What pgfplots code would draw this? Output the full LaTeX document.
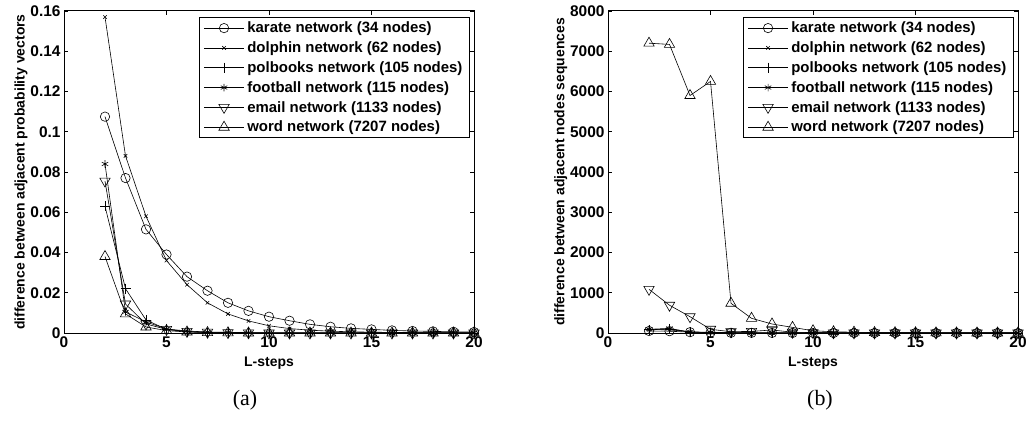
\documentclass[border=0pt]{standalone}
\usepackage{pgfplots}
\pgfplotsset{compat=1.18}
\usepackage{fontspec}
\setmainfont{Liberation Sans}[BoldFont={Liberation Sans Bold}]
\newfontfamily\capfont{Liberation Serif}
\usetikzlibrary{plotmarks}

\pgfplotsset{
  netaxis/.style={
    scale only axis,
    width=410bp, height=322bp,
    xmin=0, xmax=20,
    xtick={0,5,10,15,20},
    axis line style={line width=1bp},
    tick style={black, line width=0.7bp},
    tick align=inside,
    major tick length=4bp,
    /pgf/number format/assume math mode=true,
    tick label style={font=\fontsize{15.5}{17}\selectfont\bfseries},
    label style={font=\fontsize{14}{16}\selectfont\bfseries},
    xlabel={L-steps},
    xlabel style={yshift=-3bp},
    ylabel style={yshift=-4bp},
    legend style={
      at={(rel axis cs:0.99,0.98)}, anchor=north east,
      font=\fontsize{15}{17}\selectfont\bfseries,
      draw=black, line width=1bp,
      row sep=7.5bp, inner sep=4bp,
      legend cell align=left,
      nodes={inner xsep=3bp, inner ysep=0bp},
    },
    legend image code/.code={
      \draw[mark repeat=2,mark phase=2,#1] plot coordinates {(0bp,0bp) (20bp,0bp) (40bp,0bp)};
    },
    clip=false,
  },
  base/.style={black, line width=0.6bp, mark options={solid, black, line width=0.6bp}},
  karate/.style={base, mark=o, mark size=4.7bp},
  dolphin/.style={base, mark=x, mark size=2.5bp},
  polbooks/.style={base, mark=+, mark size=5bp},
  football/.style={base, mark=asterisk, mark size=3.7bp},
  email/.style={base, mark=triangle, mark size=6bp, mark options={rotate=180}},
  word/.style={base, mark=triangle, mark size=6bp},
}

\begin{document}
\begin{tikzpicture}[x=1bp,y=1bp]
\path[use as bounding box] (0,0) rectangle (1027,425);

% (a) difference between adjacent probability vectors
\begin{axis}[netaxis, at={(64bp,92bp)},
  ymin=0, ymax=0.16,
  ytick={0,0.02,0.04,0.06,0.08,0.1,0.12,0.14,0.16},
  yticklabel style={/pgf/number format/fixed},
  ylabel={difference between adjacent probability vectors}]
\addplot[karate] coordinates {(2,0.1075) (3,0.077) (4,0.0515) (5,0.039) (6,0.028) (7,0.021) (8,0.015) (9,0.011) (10,0.0081) (11,0.0061) (12,0.0043) (13,0.0031) (14,0.0023) (15,0.0018) (16,0.0013) (17,0.0010) (18,0.0008) (19,0.0006) (20,0.0005)};
\addlegendentry{karate network (34 nodes)}
\addplot[dolphin] coordinates {(2,0.157) (3,0.088) (4,0.058) (5,0.036) (6,0.024) (7,0.015) (8,0.0095) (9,0.006) (10,0.0036) (11,0.0022) (12,0.0014) (13,0.0009) (14,0.0006) (15,0.0004) (16,0.0003) (17,0.0002) (18,0.0001) (19,0.0001) (20,0.0001)};
\addlegendentry{dolphin network (62 nodes)}
\addplot[polbooks] coordinates {(2,0.063) (3,0.022) (4,0.0065) (5,0.0018) (6,0.0006) (7,0.0002) (8,0.0001) (9,0.0001) (10,0) (11,0) (12,0) (13,0) (14,0) (15,0) (16,0) (17,0) (18,0) (19,0) (20,0)};
\addlegendentry{polbooks network (105 nodes)}
\addplot[football] coordinates {(2,0.084) (3,0.0105) (4,0.0055) (5,0.002) (6,0.001) (7,0.0005) (8,0.0003) (9,0.0002) (10,0.0001) (11,0) (12,0) (13,0) (14,0) (15,0) (16,0) (17,0) (18,0) (19,0) (20,0)};
\addlegendentry{football network (115 nodes)}
\addplot[email] coordinates {(2,0.0755) (3,0.0144) (4,0.0045) (5,0.0018) (6,0.0008) (7,0.0004) (8,0.0002) (9,0.0001) (10,0) (11,0) (12,0) (13,0) (14,0) (15,0) (16,0) (17,0) (18,0) (19,0) (20,0)};
\addlegendentry{email network (1133 nodes)}
\addplot[word] coordinates {(2,0.038) (3,0.0095) (4,0.003) (5,0.0012) (6,0.0005) (7,0.0002) (8,0.0001) (9,0) (10,0) (11,0) (12,0) (13,0) (14,0) (15,0) (16,0) (17,0) (18,0) (19,0) (20,0)};
\addlegendentry{word network (7207 nodes)}
\end{axis}

% (b) difference between adjacent nodes sequences
\begin{axis}[netaxis, at={(608bp,92bp)},
  ymin=0, ymax=8000,
  ytick={0,1000,2000,3000,4000,5000,6000,7000,8000},
  scaled y ticks=false,
  yticklabel style={/pgf/number format/.cd, fixed, set thousands separator={}},
  ylabel={difference between adjacent nodes sequences}]
\addplot[karate] coordinates {(2,50) (3,45) (4,20) (5,10) (6,5) (7,3) (8,2) (9,1) (10,1) (11,0) (12,0) (13,0) (14,0) (15,0) (16,0) (17,0) (18,0) (19,0) (20,0)};
\addlegendentry{karate network (34 nodes)}
\addplot[dolphin] coordinates {(2,85) (3,80) (4,30) (5,15) (6,8) (7,5) (8,3) (9,2) (10,1) (11,1) (12,0) (13,0) (14,0) (15,0) (16,0) (17,0) (18,0) (19,0) (20,0)};
\addlegendentry{dolphin network (62 nodes)}
\addplot[polbooks] coordinates {(2,80) (3,100) (4,25) (5,10) (6,5) (7,3) (8,2) (9,1) (10,0) (11,0) (12,0) (13,0) (14,0) (15,0) (16,0) (17,0) (18,0) (19,0) (20,0)};
\addlegendentry{polbooks network (105 nodes)}
\addplot[football] coordinates {(2,92) (3,115) (4,20) (5,10) (6,5) (7,3) (8,2) (9,1) (10,0) (11,0) (12,0) (13,0) (14,0) (15,0) (16,0) (17,0) (18,0) (19,0) (20,0)};
\addlegendentry{football network (115 nodes)}
\addplot[email] coordinates {(2,1085) (3,690) (4,405) (5,92) (6,32) (7,40) (8,75) (9,20) (10,10) (11,5) (12,3) (13,2) (14,1) (15,0) (16,0) (17,0) (18,0) (19,0) (20,0)};
\addlegendentry{email network (1133 nodes)}
\addplot[word] coordinates {(2,7200) (3,7170) (4,5900) (5,6250) (6,738) (7,365) (8,224) (9,140) (10,57) (11,30) (12,20) (13,10) (14,8) (15,5) (16,3) (17,2) (18,1) (19,1) (20,0)};
\addlegendentry{word network (7207 nodes)}
\end{axis}

\node[font=\capfont\fontsize{22}{24}\selectfont] at (245,25) {(a)};
\node[font=\capfont\fontsize{22}{24}\selectfont] at (820,25) {(b)};
\end{tikzpicture}
\end{document}
